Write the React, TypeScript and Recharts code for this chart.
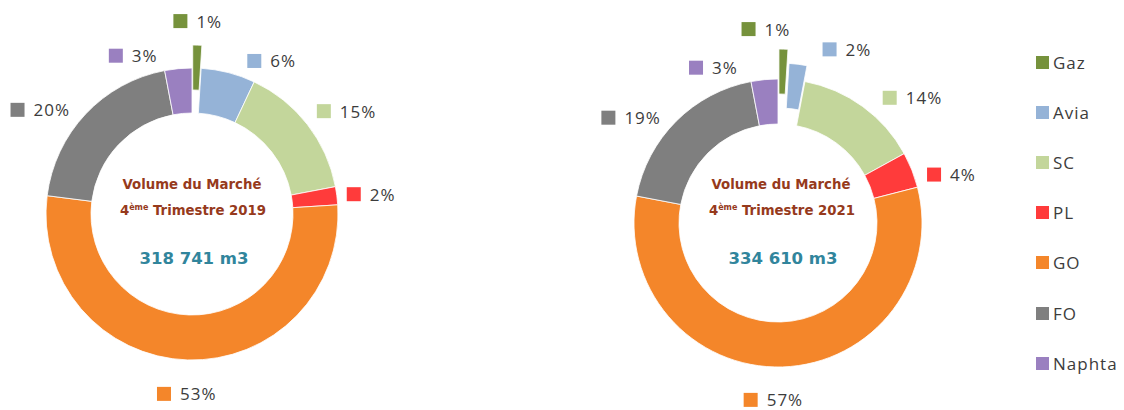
import React from 'react';
import { PieChart, Pie, Cell, Legend, Sector } from 'recharts';

// product categories, same order for both quarters (clockwise from 12 o'clock)
const categories = ['Gaz', 'Avia', 'SC', 'PL', 'GO', 'FO', 'Naphta'];
const colors = ['#76923c', '#95b3d7', '#c3d69b', '#ff3b3b', '#f4862a', '#7f7f7f', '#9a80c0'];

// market share in % per product
const share2019 = [1, 6, 15, 2, 53, 20, 3];
const share2021 = [1, 2, 14, 4, 57, 19, 3];

const quarterLabels = ['2019', '2021'];
const volumeLabels = ['318 741 m3', '334 610 m3'];

const LABEL_FONT = "'Open Sans', sans-serif";
const TEXT_GRAY = '#3c3c3c';

type ChartCfg = {
  id: string;
  values: number[];
  year: string;
  volume: string;
  cx: number;
  cy: number;
  inner: number;
  outer: number;
  explode: number[];
  nudge: number[][]; // manual label offsets, like Excel's hand-placed labels
  textDx: number;
  textDy: number;
};

const charts: ChartCfg[] = [
  {
    id: 'q4-2019',
    values: share2019,
    year: quarterLabels[0],
    volume: volumeLabels[0],
    cx: 192,
    cy: 214,
    inner: 101,
    outer: 146,
    explode: [23, 0, 0, 0, 0, 0, 0],
    nudge: [[0, -4], [16, 8], [0, 2], [-2, 0], [0, 1], [-7, 12], [-44, 7]],
    textDx: 1,
    textDy: 0,
  },
  {
    id: 'q4-2021',
    values: share2021,
    year: quarterLabels[1],
    volume: volumeLabels[1],
    cx: 778,
    cy: 223,
    inner: 99,
    outer: 144,
    explode: [30, 16, 0, 0, 0, 0, 0],
    nudge: [[-18, 0], [23, 5], [13, 9], [4, 9], [-10, 0], [-7, 13], [-50, 8]],
    textDx: 4,
    textDy: -9,
  },
];

// rough width of a "12%" label in Open Sans 17px + 1px tracking
const labelWidth = (s: string) => s.replace('%', '').length * 10.7 + 14.9;

const makeLabel = (chart: ChartCfg) => (props: any) => {
  const { cx, cy, midAngle, innerRadius, outerRadius, startAngle, endAngle, index, value } = props;
  const RAD = Math.PI / 180;
  const dx = Math.cos(-midAngle * RAD);
  const dy = Math.sin(-midAngle * RAD);
  const ex = chart.explode[index] || 0;
  const color = colors[index];
  const [nx, ny] = chart.nudge[index] || [0, 0];

  const dist = outerRadius + ex + 12 + 13 * Math.pow(Math.max(0, dy), 6);
  const px = cx + dist * dx;
  const py = cy + dist * dy;
  const text = `${value}%`;
  const w = 14 + 9 + labelWidth(text);
  const left = (Math.abs(dx) < 0.1 ? px - w / 2 : dx > 0 ? px : px - w) + nx;
  const mid = (Math.abs(dy) < 0.45 ? py : dy < 0 ? py - 8 : py + 8) + ny;

  return (
    <g>
      {ex > 0 && (
        <Sector
          cx={cx + ex * dx}
          cy={cy + ex * dy}
          innerRadius={innerRadius}
          outerRadius={outerRadius}
          startAngle={startAngle}
          endAngle={endAngle}
          fill={color}
          stroke="#ffffff"
          strokeWidth={0.8}
        />
      )}
      <rect x={left} y={mid - 7} width={14} height={14} fill={color} />
      <text
        x={left + 23}
        y={mid}
        dominantBaseline="central"
        fill={TEXT_GRAY}
        fontSize={17}
        letterSpacing={1}
        fontFamily={LABEL_FONT}
      >
        {text}
      </text>
    </g>
  );
};

const CenterText = ({ chart }: { chart: ChartCfg }) => {
  const x = chart.cx + chart.textDx;
  const y = chart.cy + chart.textDy;
  return (
    <g fontFamily="'DejaVu Sans', sans-serif" fontWeight="bold" textAnchor="middle">
      <text x={x - 1} y={y - 25} fontSize={13.3} fill="#963a1c">
        Volume du Marché
      </text>
      <text x={x} y={y + 1} fontSize={13.3} fill="#963a1c">
        4<tspan fontSize={8} dy={-5}>ème</tspan>
        <tspan dy={5}> Trimestre {chart.year}</tspan>
      </text>
      <text x={x + 1} y={y + 50} fontSize={16.5} fill="#31859c">
        {chart.volume}
      </text>
    </g>
  );
};

const renderLegend = () => (
  <div style={{ fontFamily: LABEL_FONT }}>
    {categories.map((name, i) => (
      <div key={name} style={{ height: 50.2, display: 'flex', alignItems: 'center' }}>
        <span style={{ width: 13, height: 13, background: colors[i], display: 'inline-block' }} />
        <span style={{ marginLeft: 4, fontSize: 17, letterSpacing: 1, color: TEXT_GRAY }}>{name}</span>
      </div>
    ))}
  </div>
);

export default function App() {
  return (
    <div style={{ position: 'absolute', left: 0, top: 0, background: '#fff' }}>
      <PieChart width={1124} height={410} margin={{ top: 0, right: 0, bottom: 0, left: 0 }}>
        {charts.map((chart) => (
          <Pie
            key={chart.id}
            data={categories.map((name, i) => ({ name, value: chart.values[i] }))}
            dataKey="value"
            nameKey="name"
            cx={chart.cx}
            cy={chart.cy}
            innerRadius={chart.inner}
            outerRadius={chart.outer}
            startAngle={90}
            endAngle={-270}
            stroke="#ffffff"
            strokeWidth={0.8}
            label={makeLabel(chart)}
            labelLine={false}
            isAnimationActive={false}
          >
            {categories.map((name, i) => (
              <Cell
                key={name}
                fill={chart.explode[i] > 0 ? 'transparent' : colors[i]}
                stroke={chart.explode[i] > 0 ? 'none' : '#ffffff'}
              />
            ))}
          </Pie>
        ))}
        {charts.map((chart) => (
          <CenterText key={chart.id + '-txt'} chart={chart} />
        ))}
        <Legend
          layout="vertical"
          verticalAlign="top"
          align="right"
          content={renderLegend}
          wrapperStyle={{ left: 1036, top: 37, width: 88 }}
        />
      </PieChart>
    </div>
  );
}
